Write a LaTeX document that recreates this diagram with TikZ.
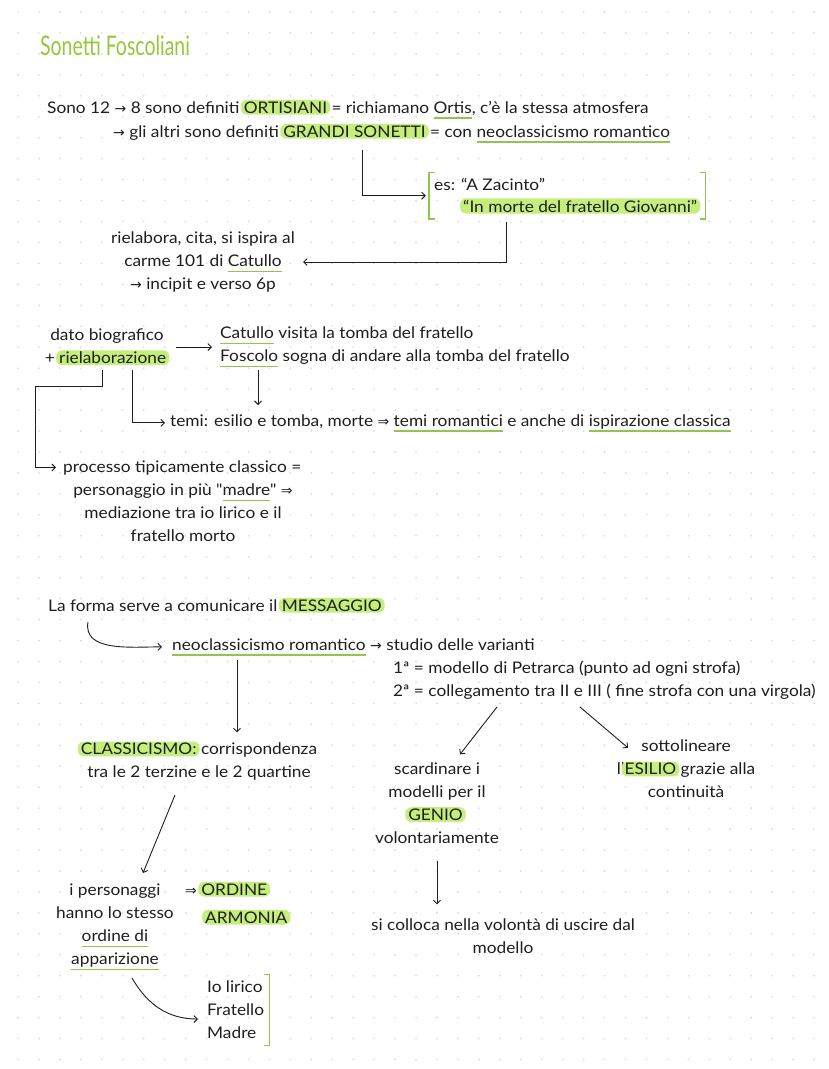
\documentclass[tikz,border=0pt]{standalone}
\usepackage{fontspec}
\setmainfont{Lato}[FakeStretch=1.08, Ligatures=TeXOff]
\newfontfamily\arrowfont{DejaVu Sans}
\newfontfamily\titlefont{Lato}[FakeStretch=0.72]
\usetikzlibrary{arrows.meta, fit}

\definecolor{hlgreen}{RGB}{198,238,125}
\definecolor{ulgreen}{RGB}{140,200,75}
\definecolor{ttgreen}{RGB}{150,200,60}
\definecolor{dotgrey}{RGB}{214,214,214}
\definecolor{ink}{RGB}{30,30,30}

\newsavebox\ulgbox
\newcommand{\rarr}{{\arrowfont\fontsize{14}{14}\selectfont →}}
\newcommand{\Rarr}{{\arrowfont\fontsize{14}{14}\selectfont ⇒}}
\newcommand{\hlg}[1]{\hspace{-3pt}\tikz[baseline=(hl.base)]\node[fill=hlgreen, rounded corners=6pt, inner xsep=3pt, inner ysep=1.5pt](hl){#1};\hspace{-3pt}}
\newcommand{\ulg}[1]{\sbox\ulgbox{#1}\vtop{\hbox{\raisebox{0pt}[\ht\ulgbox][0pt]{\usebox\ulgbox}}\kern4pt\nointerlineskip\hbox{\textcolor{ulgreen}{\rule{\wd\ulgbox}{1.5pt}}}}}

\begin{document}
\begin{tikzpicture}[x=1pt, y=-1pt,
  txt/.style={inner sep=0pt, text=ink, font=\fontsize{16}{23}\selectfont},
  arr/.style={-{Straight Barb[length=3.5pt,width=7pt]}, line width=0.9pt, draw=ink},
  brk/.style={draw=ulgreen, line width=1.4pt},
  griddot/.style={fill=dotgrey}]
\useasboundingbox[fill=white] (0,0) rectangle (828,1069);
\foreach \i in {0,...,39}
  \foreach \j in {0,...,50}
    \fill[griddot] (18+\i*20.95, 12+\j*20.95) circle (0.9pt);

\node[txt, anchor=west, text=ttgreen, font=\titlefont\fontsize{27}{28}\selectfont] (title) at (40,46) {Sonetti Foscoliani};

\node[txt, anchor=base west] (sono) at (47,113) {Sono 12 \rarr{} 8 sono definiti \hlg{ORTISIANI} = richiamano \ulg{Ortis}, c’è la stessa atmosfera};
\node[txt, anchor=base west] (altri) at (113,137) {\rarr{} gli altri sono definiti \hlg{GRANDI SONETTI} = con \ulg{neoclassicismo romantico}};

\node[txt, anchor=base west] (es1) at (434,190) {es: “A Zacinto”};
\node[txt, anchor=base west] (es2) at (463,212) {\hlg{“In morte del fratello Giovanni”}};
\node[fit=(es1)(es2), inner xsep=5pt, inner ysep=5pt] (es) {};
\draw[brk] ([xshift=6pt]es.north west) -- (es.north west) -- (es.south west) -- ([xshift=6pt]es.south west);
\draw[brk] ([xshift=-6pt]es.north east) -- (es.north east) -- (es.south east) -- ([xshift=-6pt]es.south east);

\node[txt, align=center] (riel) at (203,262) {rielabora, cita, si ispira al\\carme 101 di \ulg{Catullo}\\\rarr{} incipit e verso 6p};

\coordinate (gs) at (362,150);
\coordinate (gio) at (506,222);
\draw[arr] (gs) |- ([xshift=-3pt]es.west);
\draw[arr] (gio) |- ([xshift=8pt]riel.east);

\node[txt, align=center] (dato) at (107,347) {dato biografico\\+ \hlg{rielaborazione}};
\node[txt, align=left, anchor=west] (cat) at (220,347) {\ulg{Catullo} visita la tomba del fratello\\\ulg{Foscolo} sogna di andare alla tomba del fratello};
\node[txt, anchor=base west] (temi) at (170,426) {temi: esilio e tomba, morte \Rarr{} \ulg{temi romantici} e anche di \ulg{ispirazione classica}};
\node[txt, anchor=base west] (proc) at (63,472) {processo tipicamente classico =};
\node[txt, align=center, anchor=north] (procb) at (183,484) {personaggio in più "\ulg{madre}" \Rarr{}\\mediazione tra io lirico e il\\fratello morto};

\coordinate (fos) at (258,370);
\coordinate (rie1) at (132,370);
\coordinate (rie2) at (102,370);
\draw[arr, shorten <=7pt, shorten >=8pt] (dato.east) -- (cat.west);
\draw[arr, shorten >=9pt] (fos) -- (fos |- temi.north);
\draw[arr] (rie1) |- ([xshift=-5pt]temi.west);
\draw[arr] (rie2) -- ++(0,16) -- ++(-67,0) |- ([xshift=-7pt]proc.west);

\node[txt, anchor=base west] (forma) at (48,611) {La forma serve a comunicare il \hlg{MESSAGGIO}};
\node[txt, anchor=base west] (neo) at (172,650) {\ulg{neoclassicismo romantico} \rarr{} studio delle varianti};
\node[txt, anchor=base west] (var1) at (393,673) {1ª = modello di Petrarca (punto ad ogni strofa)};
\node[txt, anchor=base west] (var2) at (393,696) {2ª = collegamento tra II e III ( fine strofa con una virgola)};

\node[txt, align=center] (class) at (199,761) {\hlg{CLASSICISMO:} corrispondenza\\tra le 2 terzine e le 2 quartine};
\node[txt, align=center] (scard) at (437,803) {scardinare i\\modelli per il\\\hlg{GENIO}\\volontariamente};
\node[txt, align=center] (esil) at (686,769) {sottolineare\\l’\hlg{ESILIO} grazie alla\\continuità};
\node[txt, align=center] (coll) at (503,936) {si colloca nella volontà di uscire dal\\modello};

\coordinate (fo) at (88,622);
\coordinate (nr) at (237,660);
\coordinate (v2a) at (497,707);
\coordinate (v2b) at (580,707);
\draw[arr] (fo) to[out=-100, in=180] ([xshift=-10pt]neo.west);
\draw[arr, shorten >=9pt] (nr) -- (nr |- class.north);
\draw[arr] (v2a) -- ([xshift=23pt, yshift=8pt]scard.north);
\draw[arr] (v2b) -- ([xshift=-58pt, yshift=-8pt]esil.north);
\draw[arr, shorten <=17pt, shorten >=14pt] (scard.south) -- (coll.north -| scard.south);

\node[txt, align=center, anchor=north] (pers) at (115,884) {i personaggi\\hanno lo stesso\\\ulg{ordine di}\\\ulg{apparizione}};
\node[txt, anchor=base west] (ord) at (185,895) {\Rarr{} \hlg{ORDINE}};
\node[txt, anchor=base west] (arm) at (205,923) {\hlg{ARMONIA}};
\node[txt, align=left, anchor=west] (roles) at (207,1010) {Io lirico\\Fratello\\Madre};
\node[fit=(roles), inner xsep=5pt, inner ysep=6pt] (rolesb) {};
\draw[brk] ([xshift=-5pt]rolesb.north east) -- (rolesb.north east) -- (rolesb.south east) -- ([xshift=-5pt]rolesb.south east);

\coordinate (cl) at (175,795);
\coordinate (pa) at (132,978);
\draw[arr] (cl) -- ([xshift=28pt, yshift=11pt]pers.north);
\draw[arr] (pa) to[out=-60, in=180] ([xshift=-9pt, yshift=-9pt]roles.west);
\end{tikzpicture}
\end{document}
